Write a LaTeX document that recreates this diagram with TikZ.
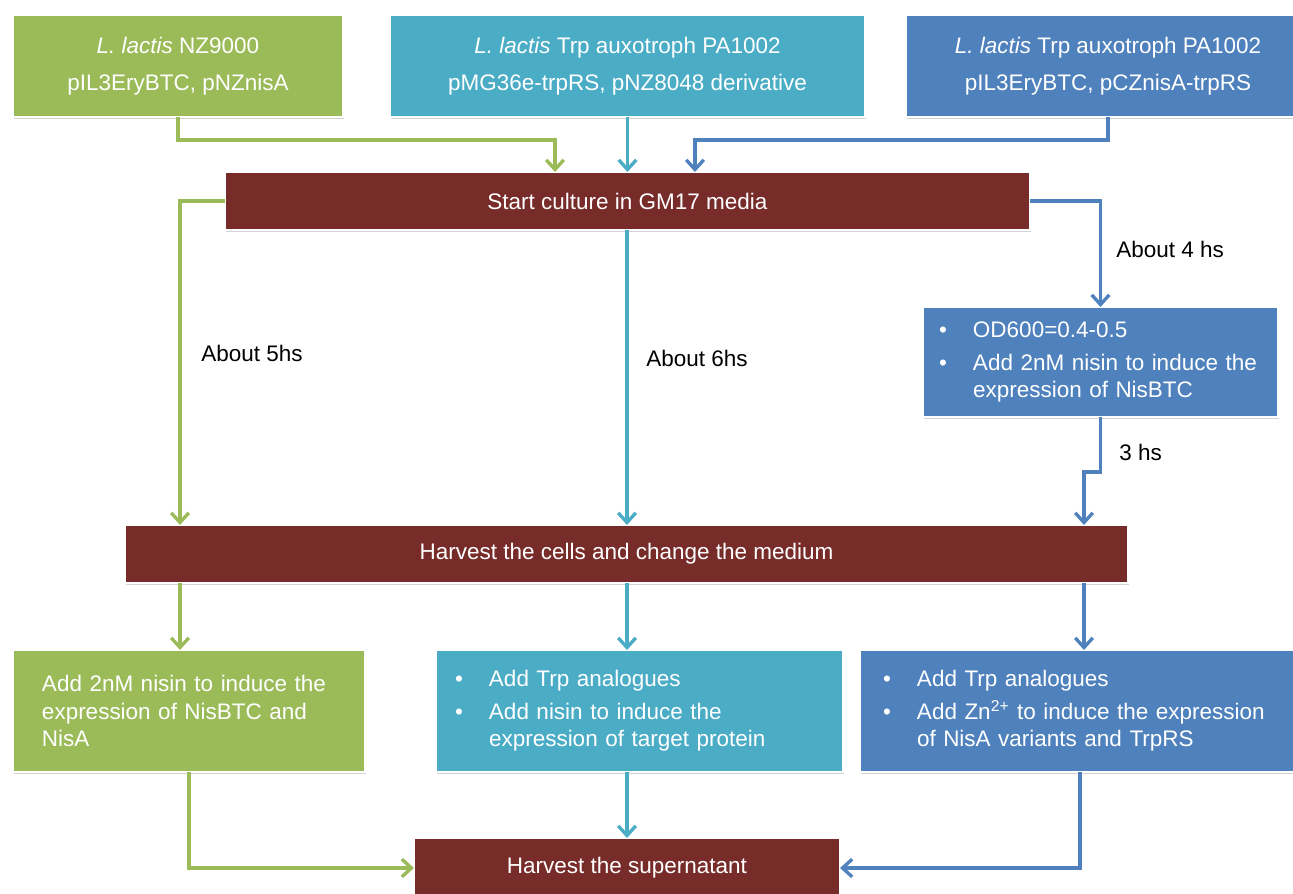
\documentclass[tikz,border=0pt]{standalone}
\usepackage{fontspec}
\setmainfont{Liberation Sans}
\usepackage{tikz}
\usetikzlibrary{arrows.meta,shadows,calc,positioning}
\definecolor{strainGreen}{HTML}{9BBB59}
\definecolor{strainTeal}{HTML}{4BACC6}
\definecolor{strainBlue}{HTML}{4F81BD}
\definecolor{stepRed}{HTML}{772C2A}
\newcommand{\bul}{\makebox[0.68cm][l]{\textbullet}}
\newcommand{\ind}{\hspace*{0.68cm}}
\newcommand{\topfont}{\fontsize{12.8}{21}\selectfont}
\newcommand{\boxfont}{\fontsize{12.8}{15.6}\selectfont}

\begin{document}
\begin{tikzpicture}[
  >={Straight Barb[length=5.5pt,width=10pt]},
  box/.style={draw=white, line width=1.5pt, text=white, outer sep=0pt, inner sep=0pt,
    font=\boxfont, drop shadow={shadow xshift=0.8pt, shadow yshift=-1pt, opacity=0.35}},
  topbox/.style={box, minimum height=2.04cm, align=center, font=\topfont},
  stepbox/.style={box, fill=stepRed},
  listbox/.style={box, align=left, inner ysep=0pt},
  gline/.style={draw=strainGreen, line width=1.9pt},
  tline/.style={draw=strainTeal, line width=1.9pt},
  bline/.style={draw=strainBlue, line width=1.9pt},
  lbl/.style={font=\boxfont, anchor=west, inner sep=0pt}
]
\path[use as bounding box, clip] (0cm,0cm) rectangle (25.86cm,-17.88cm);

\node[topbox, fill=strainGreen, minimum width=6.6cm] (g1) at (3.56cm,-1.32cm) {\textit{L. lactis} NZ9000\\pIL3EryBTC, pNZnisA};
\node[topbox, fill=strainTeal, minimum width=9.5cm] (t1) at (12.55cm,-1.32cm) {\textit{L. lactis} Trp auxotroph PA1002\\pMG36e-trpRS, pNZ8048 derivative};
\node[topbox, fill=strainBlue, minimum width=8.08cm] (b1) at (22.16cm,-1.32cm) {\textit{L. lactis} Trp auxotroph PA1002\\pIL3EryBTC, pCZnisA-trpRS};

\node[stepbox, minimum width=16.1cm, minimum height=1.16cm] (start) at (12.55cm,-4.02cm) {Start culture in GM17 media};

\node[listbox, fill=strainBlue, text width=6.46cm, inner xsep=0.32cm, minimum height=2.2cm] (od) at (22.01cm,-7.24cm)
  {\bul OD600=0.4-0.5\\[3pt]\bul Add 2nM nisin to induce the\\\ind expression of NisBTC};

\node[stepbox, minimum width=20.06cm, minimum height=1.16cm] (cells) at (12.53cm,-11.08cm) {Harvest the cells and change the medium};

\node[listbox, fill=strainGreen, text width=5.88cm, inner xsep=0.58cm, minimum height=2.44cm] (g2) at (3.78cm,-14.22cm)
  {Add 2nM nisin to induce the\\expression of NisBTC and\\NisA};
\node[listbox, fill=strainTeal, text width=7.38cm, inner xsep=0.38cm, minimum height=2.44cm] (t2) at (12.79cm,-14.22cm)
  {\bul Add Trp analogues\\[3pt]\bul Add nisin to induce the\\\ind expression of target protein};
\node[listbox, fill=strainBlue, text width=7.88cm, inner xsep=0.46cm, minimum height=2.44cm] (b2) at (21.6cm,-14.22cm)
  {\bul Add Trp analogues\\[3pt]\bul Add Zn\textsuperscript{2+} to induce the expression\\\ind of NisA variants and TrpRS};

\node[stepbox, minimum width=8.52cm, minimum height=1.2cm] (sup) at (12.54cm,-17.36cm) {Harvest the supernatant};

\coordinate (gl) at (3.6cm,0cm);
\coordinate (tl) at (12.54cm,0cm);
\coordinate (bl) at (21.68cm,0cm);
\coordinate (gin) at (11.1cm,0cm);
\coordinate (bin) at (13.9cm,0cm);

\draw[gline,->] (g1.south) -- ++(0cm,-0.46cm) -| (start.north -| gin);
\draw[tline,->] (t1.south) -- (start.north);
\draw[bline,->] (b1.south) -- ++(0cm,-0.46cm) -| (start.north -| bin);

\draw[gline,->] (start.west) -| (cells.north -| gl);
\draw[tline,->] (start.south -| tl) -- (cells.north -| tl);
\draw[bline,->] (start.east) -| (od.north);
\draw[bline,->] (od.south) -- ++(0cm,-1.1cm) -| (cells.north -| bl);

\node[lbl] (l5) at (4.02cm,-7.06cm) {About 5hs};
\node[lbl] (l6) at (12.92cm,-7.16cm) {About 6hs};
\node[lbl] (l4) at (22.32cm,-4.98cm) {About 4 hs};
\node[lbl] (l3) at (22.38cm,-9.04cm) {3 hs};

\draw[gline,->] (cells.south -| gl) -- (g2.north -| gl);
\draw[tline,->] (cells.south -| tl) -- (t2.north -| tl);
\draw[bline,->] (cells.south -| bl) -- (b2.north -| bl);

\draw[gline,->] (g2.south) |- (sup.west);
\draw[tline,->] (t2.south -| sup.north) -- (sup.north);
\draw[bline,->] (b2.south) |- (sup.east);
\end{tikzpicture}
\end{document}
